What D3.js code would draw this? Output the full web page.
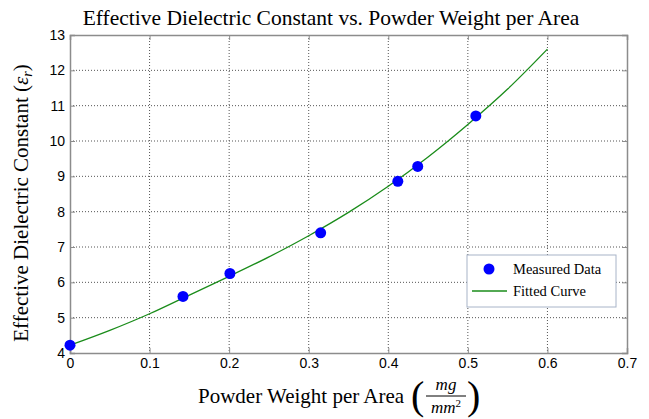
<!DOCTYPE html>
<html><head><meta charset="utf-8">
<script src="https://cdn.jsdelivr.net/npm/d3@7/dist/d3.min.js"></script>
<style>body{margin:0;background:#fff}svg{display:block}</style>
</head><body>
<svg id="c" width="649" height="419"></svg>
<script>
// Measured data
const measuredX = [0, 0.142, 0.201, 0.315, 0.412, 0.437, 0.510];
const measuredY = [4.22, 5.60, 6.25, 7.40, 8.86, 9.28, 10.71];
// Fitted curve
const curveX = [0, 0.05, 0.1, 0.15, 0.2, 0.25, 0.3, 0.35, 0.4, 0.45, 0.5, 0.55, 0.6];
const curveY = [4.22, 4.64, 5.11, 5.64, 6.17, 6.72, 7.32, 7.98, 8.72, 9.55, 10.47, 11.47, 12.60];
const xTicks = [0, 0.1, 0.2, 0.3, 0.4, 0.5, 0.6, 0.7];
const yTicks = [4, 5, 6, 7, 8, 9, 10, 11, 12, 13];
const legendLabels = ["Measured Data", "Fitted Curve"];

const svg = d3.select("#c");
const L = 70, R = 627, T = 35, B = 353;
const x = d3.scaleLinear().domain([0, 0.7]).range([L, R]);
const y = d3.scaleLinear().domain([4, 13]).range([B, T]);
const serif = "'Liberation Serif','Times New Roman',serif";
const sans = "'Liberation Sans',Arial,sans-serif";
const gridCol = "#555";

// grid
const g = svg.append("g");
g.selectAll(".vg").data(xTicks.slice(1, -1)).join("line")
  .attr("x1", d => x(d)).attr("x2", d => x(d)).attr("y1", T).attr("y2", B)
  .attr("stroke", gridCol).attr("stroke-width", 1).attr("stroke-dasharray", "1,2");
g.selectAll(".hg").data(yTicks.slice(1, -1)).join("line")
  .attr("y1", d => y(d)).attr("y2", d => y(d)).attr("x1", L).attr("x2", R)
  .attr("stroke", gridCol).attr("stroke-width", 1).attr("stroke-dasharray", "1,2");

// axes
const axCol = "#8c8c8c";
const xAxis = svg.append("g").attr("transform", `translate(0,${B})`)
  .call(d3.axisBottom(x).tickValues(xTicks).tickSize(-5).tickPadding(5).tickFormat(d => d === 0 ? "0" : d3.format(".1f")(d)));
const xTop = svg.append("g").attr("transform", `translate(0,${T})`)
  .call(d3.axisTop(x).tickValues(xTicks).tickSize(-5).tickFormat(""));
const yAxis = svg.append("g").attr("transform", `translate(${L},0)`)
  .call(d3.axisLeft(y).tickValues(yTicks).tickSize(-5).tickPadding(5));
const yRight = svg.append("g").attr("transform", `translate(${R},0)`)
  .call(d3.axisRight(y).tickValues(yTicks).tickSize(-5).tickFormat(""));
[xAxis, xTop, yAxis, yRight].forEach(a => {
  a.select(".domain").attr("stroke", axCol).attr("stroke-width", 1.5);
  a.selectAll(".tick line").attr("stroke", axCol);
  a.selectAll("text").attr("font-family", sans).attr("font-size", 14).attr("fill", "#000");
});
xAxis.selectAll("text").attr("dy", "0.71em");

// curve
const curveData = curveX.map((d, i) => [d, curveY[i]]);
svg.append("path").datum(curveData)
  .attr("d", d3.line().x(d => x(d[0])).y(d => y(d[1])).curve(d3.curveMonotoneX))
  .attr("fill", "none").attr("stroke", "#1a8c1a").attr("stroke-width", 1.3);

// points
svg.selectAll(".pt").data(measuredX.map((d, i) => [d, measuredY[i]])).join("circle")
  .attr("cx", d => x(d[0])).attr("cy", d => y(d[1])).attr("r", 5.5).attr("fill", "#0000ff");

// legend
const lg = svg.append("g");
lg.append("rect").attr("x", 467).attr("y", 255).attr("width", 149).attr("height", 52)
  .attr("fill", "#fff").attr("stroke", "#a8b4c8").attr("stroke-width", 1);
lg.append("circle").attr("cx", 489).attr("cy", 269).attr("r", 5.5).attr("fill", "#0000ff");
lg.append("line").attr("x1", 472).attr("x2", 507).attr("y1", 291).attr("y2", 291)
  .attr("stroke", "#1a8c1a").attr("stroke-width", 1.5);
lg.selectAll(".lt").data(legendLabels).join("text")
  .attr("x", 513).attr("y", (d, i) => 274 + i * 22).text(d => d)
  .attr("font-family", serif).attr("font-size", 14.5).attr("fill", "#000");

// title
svg.append("text").attr("x", 331).attr("y", 25).attr("text-anchor", "middle")
  .attr("font-family", serif).attr("font-size", 21.5).text("Effective Dielectric Constant vs. Powder Weight per Area");

// y label
const yl = svg.append("text").attr("transform", "translate(28,203) rotate(-90)")
  .attr("text-anchor", "middle").attr("font-family", serif).attr("font-size", 21);
yl.append("tspan").text("Effective Dielectric Constant (");
yl.append("tspan").attr("font-style", "italic").text("ε");
yl.append("tspan").attr("font-style", "italic").attr("font-size", 14).attr("dy", 4).text("r");
yl.append("tspan").attr("dy", -4).text(")");

// x label
const xl = svg.append("g").attr("font-family", serif).attr("fill", "#000");
xl.append("text").attr("x", 198).attr("y", 403).attr("font-size", 21)
  .text("Powder Weight per Area");
xl.append("text").attr("x", 411).attr("y", 409).attr("font-size", 40).text("(");
xl.append("text").attr("x", 446).attr("y", 390).attr("text-anchor", "middle").attr("font-size", 17)
  .attr("font-style", "italic").text("mg");
xl.append("line").attr("x1", 426).attr("x2", 466).attr("y1", 396).attr("y2", 396).attr("stroke", "#000").attr("stroke-width", 1);
const den = xl.append("text").attr("x", 446).attr("y", 413).attr("text-anchor", "middle").attr("font-size", 17);
den.append("tspan").attr("font-style", "italic").text("mm");
den.append("tspan").attr("font-size", 11).attr("dy", -6).text("2");
xl.append("text").attr("x", 467).attr("y", 409).attr("font-size", 40).text(")");
</script>
</body></html>
